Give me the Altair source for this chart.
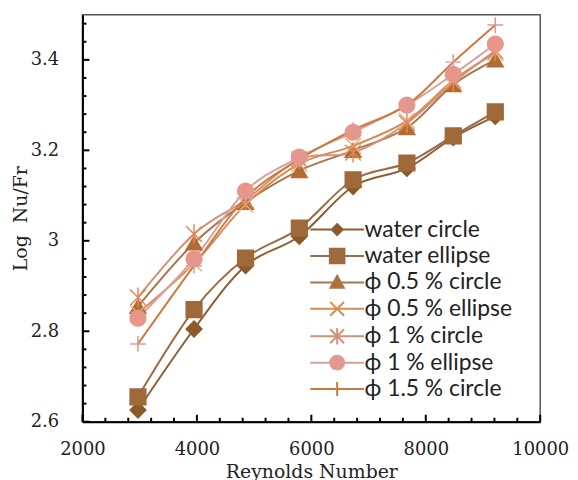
import altair as alt
import pandas as pd

# ---- data ----
reynolds = [2970, 3950, 4850, 5790, 6730, 7670, 8480, 9215]
series_names = ["water circle", "water ellipse", "ϕ 0.5 % circle", "ϕ 0.5 % ellipse",
                "ϕ 1 % circle", "ϕ 1 % ellipse", "ϕ 1.5 % circle"]
water_circle = [2.626, 2.805, 2.945, 3.010, 3.120, 3.160, 3.228, 3.275]
water_ellipse = [2.655, 2.848, 2.962, 3.028, 3.135, 3.172, 3.232, 3.285]
phi05_circle = [2.855, 2.995, 3.085, 3.155, 3.200, 3.250, 3.345, 3.400]
phi05_ellipse = [2.840, 2.950, 3.080, 3.170, 3.210, 3.265, 3.355, 3.415]
phi1_circle = [2.875, 3.015, 3.090, 3.180, 3.195, 3.260, 3.350, 3.420]
phi1_ellipse = [2.829, 2.960, 3.110, 3.185, 3.240, 3.300, 3.368, 3.435]
phi15_circle = [2.772, 2.945, 3.095, 3.180, 3.245, 3.300, 3.395, 3.477]
all_values = [water_circle, water_ellipse, phi05_circle, phi05_ellipse,
              phi1_circle, phi1_ellipse, phi15_circle]

x_major = [2000, 4000, 6000, 8000, 10000]
x_minor = [2400, 2800, 3200, 3600, 4400, 4800, 5200, 5600, 6400, 6800, 7200, 7600,
           8400, 8800, 9200, 9600]
y_major = [2.6, 2.8, 3.0, 3.2, 3.4]
y_minor = [2.64, 2.68, 2.72, 2.76, 2.84, 2.88, 2.92, 2.96, 3.04, 3.08, 3.12, 3.16,
           3.24, 3.28, 3.32, 3.36, 3.44, 3.48]

# ---- styles ----
line_colors = ["#8B5E34", "#9A6B45", "#A8764A", "#D98A4E", "#D4907A", "#D9A09A", "#CC7A3E"]
marker_fill = ["#8B5A2B", "#A0693A", "#B06C35", "transparent", "transparent", "#E8968A", "transparent"]
marker_stroke = ["#8B5A2B", "#A0693A", "#B06C35", "#E8B070", "#E0885A", "#E8968A", "#D89A9A"]
marker_shapes = ["diamond", "square", "triangle-up",
                 "M-1,-1L1,1M-1,1L1,-1",
                 "M-1,-1L1,1M-1,1L1,-1M0,-1.25L0,1.25",
                 "circle",
                 "M-1,0L1,0M0,-1L0,1"]
LINE = "M-3.86,0H3.86"
legend_paths = [
    LINE + "M-0.8,0L0,-0.8L0.8,0L0,0.8Z",
    LINE + "M-1.05,-1.05H1.05V1.05H-1.05Z",
    LINE + "M0,-0.95L0.95,0.75H-0.95Z",
    LINE + "M-1,-1L1,1M-1,1L1,-1",
    LINE + "M-1,-1L1,1M-1,1L1,-1M0,-1.2V1.2",
    LINE + "M-1,0A1,1 0 1,0 1,0A1,1 0 1,0 -1,0Z",
    LINE + "M0,-1V1",
]

W, H = 461, 410

rows = []
for name, vals in zip(series_names, all_values):
    for x, y in zip(reynolds, vals):
        rows.append({"series": name, "Re": x, "val": y})
df = pd.DataFrame(rows)

SERIF = "DejaVu Serif"

x_scale = alt.Scale(domain=[2000, 10000], nice=False)
y_scale = alt.Scale(domain=[2.6, 3.5], nice=False, zero=False)

x_axis = alt.Axis(
    values=x_major, title="Reynolds Number", grid=False, format="d",
    labelOverlap=False, labelFlush=False,
    ticks=False, tickSize=0,
    domainColor="black", domainWidth=2,
    labelFont=SERIF, labelFontSize=18, labelColor="#222", labelPadding=19,
    titleFont=SERIF, titleFontSize=19, titleFontWeight="normal", titleColor="#222",
    titleX=W / 2, titleY=56, titleBaseline="alphabetic",
)
y_axis = alt.Axis(
    values=y_major, title="Log\u00a0 Nu/Fr", grid=False, format="~g",
    labelOverlap=False, labelFlush=False,
    ticks=False, tickSize=0,
    domainColor="black", domainWidth=2,
    labelFont=SERIF, labelFontSize=18, labelColor="#222", labelPadding=24,
    titleFont=SERIF, titleFontSize=19, titleFontWeight="normal", titleColor="#222",
    titleX=-56, titleY=H / 2, titleBaseline="alphabetic",
)

legend = alt.Legend(
    title=None, orient="none", legendX=245, legendY=205, padding=0,
    symbolSize=196, symbolStrokeWidth=2,
    labelFont="Lato", labelFontSize=23, labelColor="#222",
    labelOffset=16, rowPadding=2.6, labelLimit=400,
)

x_enc = alt.X("Re:Q", scale=x_scale, axis=x_axis, title="Reynolds Number")
y_enc = alt.Y("val:Q", scale=y_scale, axis=y_axis, title="Log\u00a0 Nu/Fr")

lines = alt.Chart(df).mark_line(interpolate="cardinal", strokeWidth=2).encode(
    x=x_enc, y=y_enc,
    color=alt.Color("series:N", scale=alt.Scale(domain=series_names, range=line_colors),
                    sort=series_names, legend=None),
)
points = alt.Chart(df).mark_point(filled=False, size=250, strokeWidth=1.5, opacity=1).encode(
    x=x_enc, y=y_enc,
    shape=alt.Shape("series:N", scale=alt.Scale(domain=series_names, range=marker_shapes), legend=None),
    fill=alt.Fill("series:N", scale=alt.Scale(domain=series_names, range=marker_fill), legend=None),
    stroke=alt.Stroke("series:N", scale=alt.Scale(domain=series_names, range=marker_stroke), legend=None),
)

# legend-only layer: no rows survive the filter, the legend comes from the scales
legend_layer = alt.Chart(df).transform_filter("false").mark_point(
    filled=False, strokeWidth=2, opacity=1).encode(
    x=x_enc, y=y_enc,
    shape=alt.Shape("series:N", scale=alt.Scale(domain=series_names, range=legend_paths),
                    sort=series_names, legend=legend),
    fill=alt.Fill("series:N", scale=alt.Scale(domain=series_names, range=marker_fill),
                  sort=series_names, legend=legend),
    stroke=alt.Stroke("series:N", scale=alt.Scale(domain=series_names, range=line_colors),
                      sort=series_names, legend=legend),
)

# inward tick marks (positions through the axes' scales)
def xticks(vals, length):
    return alt.Chart(pd.DataFrame({"Re": vals})).mark_rule(color="black", strokeWidth=2).encode(
        x=x_enc, y=alt.value(H), y2=alt.value(H - length))

def yticks(vals, length):
    return alt.Chart(pd.DataFrame({"val": vals})).mark_rule(color="black", strokeWidth=2).encode(
        y=y_enc, x=alt.value(0), x2=alt.value(length))

chart = alt.layer(
    lines, points, legend_layer,
    xticks(x_major, 7), xticks(x_minor, 4),
    yticks(y_major, 7), yticks(y_minor, 4),
).resolve_scale(
    shape="independent", fill="independent", stroke="independent"
).properties(
    width=W, height=H,
    padding={"left": 75, "top": 5, "right": 30, "bottom": 57},
    autosize="none", background="white",
).configure_view(stroke="#555", strokeWidth=1.5)

chart.save("out.html", embed_options={"renderer": "svg", "actions": False})
